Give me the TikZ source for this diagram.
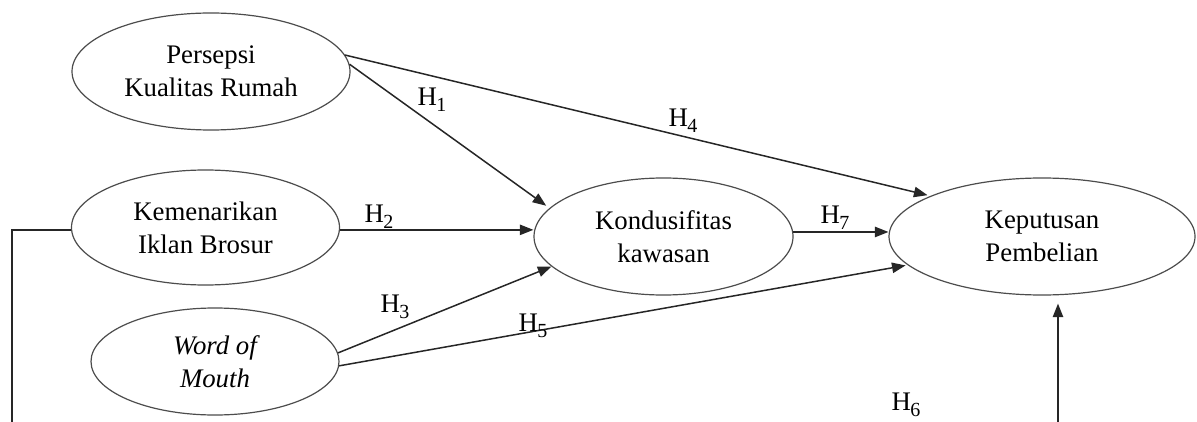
\documentclass[tikz,border=0pt]{standalone}
\usepackage{fontspec}
\setmainfont{Liberation Serif}
\usetikzlibrary{shapes.geometric,arrows.meta}

% hypothesis label: H with a lowered index
\newcommand{\hyp}[1]{H\kern-0.3pt\raisebox{-0.22em}{\fontsize{10pt}{10pt}\selectfont #1}}

\begin{document}
\begin{tikzpicture}[x=0.5pt,y=-0.5pt,
  construct/.style={ellipse,draw=black!70,line width=0.6pt,inner sep=0pt,
    align=center,font=\fontsize{13.4pt}{16.5pt}\selectfont},
  path/.style={draw=black!85,line width=0.75pt,-{Triangle[length=6.8pt,width=5.2pt]}},
  plain/.style={draw=black!85,line width=0.75pt},
  hlabel/.style={font=\fontsize{13.4pt}{14pt}\selectfont,inner sep=0pt}]
\useasboundingbox (0,0) rectangle (1197,422);

% constructs
\node[construct,minimum width=139pt,minimum height=58.5pt] (pers) at (211,71.5)
  {Persepsi\\Kualitas Rumah};
\node[construct,minimum width=134pt,minimum height=57.5pt] (kem) at (205.5,227.5)
  {Kemenarikan\\Iklan Brosur};
\node[construct,minimum width=124pt,minimum height=53.5pt] (wom) at (215,361.5)
  {\itshape Word of\\\itshape Mouth};
\node[construct,minimum width=129.5pt,minimum height=58.5pt] (kond) at (663.5,236.5)
  {Kondusifitas\\kawasan};
\node[construct,minimum width=153pt,minimum height=58.5pt] (kep) at (1042,236.5)
  {Keputusan\\Pembelian};

% free ends of the connectors leaving the frame
\coordinate (brk) at (12,422);
\coordinate (hsix) at (1058,422);

% paths
\draw[path,shorten >=2pt] (pers.3.9) -- (kond.166.4);
\draw[path,shorten >=1.5pt] (pers.7.1) -- (kep.160.2);
\draw[path] (kem.-1.5) -- (kem.-1.5 -| kond.west);
\draw[path] (wom.4) -- (kond.195.4);
\draw[path,shorten >=1pt] (wom.-2.6) -- (kep.192.8);
\draw[path] (kond.2.5) -- (kond.2.5 -| kep.west);
\draw[plain] (kem.181.5) -| (brk);
\draw[path,shorten >=4pt] (hsix) -- (hsix |- kep.south);

% hypothesis labels
\node[hlabel] (h1) at (432,100) {\hyp{1}};
\node[hlabel] (h2) at (379,217) {\hyp{2}};
\node[hlabel] (h3) at (395,307) {\hyp{3}};
\node[hlabel] (h4) at (683,121) {\hyp{4}};
\node[hlabel] (h5) at (533,326) {\hyp{5}};
\node[hlabel] (h6) at (906,405) {\hyp{6}};
\node[hlabel] (h7) at (835,218) {\hyp{7}};
\end{tikzpicture}
\end{document}
